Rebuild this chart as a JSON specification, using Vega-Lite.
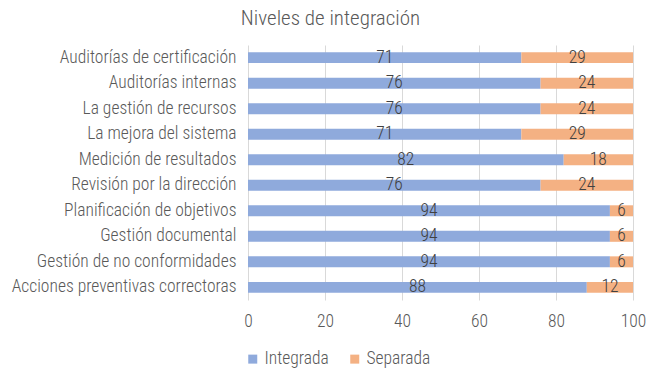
{
  "$schema": "https://vega.github.io/schema/vega-lite/v6.json",
  "autosize": {"type": "none"},
  "width": 385,
  "height": 255,
  "padding": {"left": 248, "top": 45, "right": 25, "bottom": 72},
  "background": "white",
  "title": {"text": "Niveles de integración", "font": "Roboto Condensed, DejaVu Sans Condensed, sans-serif", "fontSize": 21, "fontWeight": 300, "color": "#595959", "anchor": "middle", "dx": -110, "offset": 16},
  "data": {"values": [
    {"cat": "Auditorías de certificación", "serie": "Integrada", "v": 71, "o": 1},
    {"cat": "Auditorías de certificación", "serie": "Separada", "v": 29, "o": 2},
    {"cat": "Auditorías internas", "serie": "Integrada", "v": 76, "o": 1},
    {"cat": "Auditorías internas", "serie": "Separada", "v": 24, "o": 2},
    {"cat": "La gestión de recursos", "serie": "Integrada", "v": 76, "o": 1},
    {"cat": "La gestión de recursos", "serie": "Separada", "v": 24, "o": 2},
    {"cat": "La mejora del sistema", "serie": "Integrada", "v": 71, "o": 1},
    {"cat": "La mejora del sistema", "serie": "Separada", "v": 29, "o": 2},
    {"cat": "Medición de resultados", "serie": "Integrada", "v": 82, "o": 1},
    {"cat": "Medición de resultados", "serie": "Separada", "v": 18, "o": 2},
    {"cat": "Revisión por la dirección", "serie": "Integrada", "v": 76, "o": 1},
    {"cat": "Revisión por la dirección", "serie": "Separada", "v": 24, "o": 2},
    {"cat": "Planificación de objetivos", "serie": "Integrada", "v": 94, "o": 1},
    {"cat": "Planificación de objetivos", "serie": "Separada", "v": 6, "o": 2},
    {"cat": "Gestión documental", "serie": "Integrada", "v": 94, "o": 1},
    {"cat": "Gestión documental", "serie": "Separada", "v": 6, "o": 2},
    {"cat": "Gestión de no conformidades", "serie": "Integrada", "v": 94, "o": 1},
    {"cat": "Gestión de no conformidades", "serie": "Separada", "v": 6, "o": 2},
    {"cat": "Acciones preventivas correctoras", "serie": "Integrada", "v": 88, "o": 1},
    {"cat": "Acciones preventivas correctoras", "serie": "Separada", "v": 12, "o": 2}
  ]},
  "transform": [
    {"stack": "v", "groupby": ["cat"], "sort": [{"field": "o"}], "as": ["v0", "v1"]},
    {"calculate": "(datum.v0 + datum.v1) / 2", "as": "mid"}
  ],
  "encoding": {
    "y": {"field": "cat", "type": "nominal", "sort": null, "title": null,
      "scale": {"paddingInner": 0.57, "paddingOuter": 0.28},
      "axis": {"domain": false, "ticks": false, "labelPadding": 12, "labelFont": "Roboto Condensed, DejaVu Sans Condensed, sans-serif", "labelFontSize": 17.5, "labelFontWeight": 300, "labelColor": "#595959", "labelLimit": 300}}
  },
  "layer": [
    {
      "mark": {"type": "bar"},
      "encoding": {
        "x": {"field": "v0", "type": "quantitative", "scale": {"domain": [0, 100]}, "title": null,
          "axis": {"values": [0, 20, 40, 60, 80, 100], "domain": false, "ticks": false, "labelFlush": false, "labelPadding": 12, "grid": true, "gridColor": "#d9d9d9", "labelFont": "Roboto Condensed, DejaVu Sans Condensed, sans-serif", "labelFontSize": 17.5, "labelFontWeight": 300, "labelColor": "#595959"}},
        "x2": {"field": "v1"},
        "color": {"field": "serie", "type": "nominal", "title": null,
          "scale": {"domain": ["Integrada", "Separada"], "range": ["#8faadc", "#f4b183"]},
          "legend": {"orient": "none", "legendX": -4, "legendY": 305, "direction": "horizontal", "symbolType": "square", "symbolSize": 81, "symbolStrokeWidth": 0, "labelFont": "Roboto Condensed, DejaVu Sans Condensed, sans-serif", "labelFontSize": 17.5, "labelFontWeight": 300, "labelColor": "#595959", "columnPadding": 17, "labelOffset": 3}}
      }
    },
    {
      "mark": {"type": "text", "font": "Roboto Condensed, DejaVu Sans Condensed, sans-serif", "fontSize": 17.5, "fontWeight": 300, "color": "#404040", "baseline": "middle", "align": "center"},
      "encoding": {
        "x": {"field": "mid", "type": "quantitative"},
        "text": {"field": "v", "type": "quantitative"}
      }
    }
  ],
  "config": {"view": {"stroke": null}}
}
